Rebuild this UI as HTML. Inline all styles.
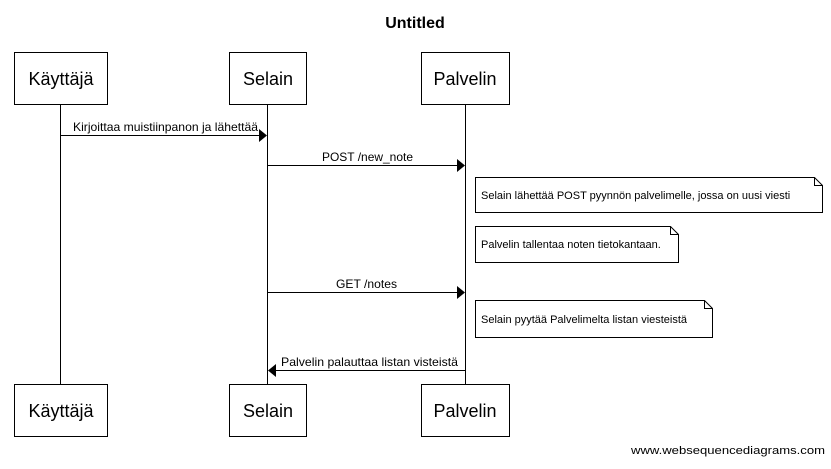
<!DOCTYPE html>
<html><head><meta charset="utf-8"><style>body{margin:0;background:#fff}</style></head><body>
<svg width="831" height="464" xmlns="http://www.w3.org/2000/svg" font-family="Liberation Sans, sans-serif">
<rect width="831" height="464" fill="#fff"/>
<text x="415" y="28" text-anchor="middle" font-size="16" font-weight="bold">Untitled</text>
<g stroke="#000" stroke-width="1" fill="#fff">
<line x1="60.5" y1="104" x2="60.5" y2="384"/>
<line x1="267.5" y1="104" x2="267.5" y2="384"/>
<line x1="465.5" y1="104" x2="465.5" y2="384"/>
<rect x="14.5" y="52.5" width="93" height="52"/>
<rect x="229.5" y="52.5" width="77" height="52"/>
<rect x="421.5" y="52.5" width="88" height="52"/>
<rect x="14.5" y="384.5" width="93" height="52"/>
<rect x="229.5" y="384.5" width="77" height="52"/>
<rect x="421.5" y="384.5" width="88" height="52"/>
<line x1="60" y1="135.5" x2="259" y2="135.5"/>
<line x1="267" y1="165.5" x2="457" y2="165.5"/>
<line x1="267" y1="292.5" x2="457" y2="292.5"/>
<line x1="276" y1="370.5" x2="465" y2="370.5"/>
<path d="M475.5 177.5H814.5L822.5 185.5V212.5H475.5Z"/>
<path d="M814.5 177.5V185.5H822.5" fill="none"/>
<path d="M475.5 226.5H670.5L678.5 234.5V262.5H475.5Z"/>
<path d="M670.5 226.5V234.5H678.5" fill="none"/>
<path d="M475.5 300.5H704.5L712.5 308.5V337.5H475.5Z"/>
<path d="M704.5 300.5V308.5H712.5" fill="none"/>
</g>
<g fill="#000">
<path d="M259 129L267 135.5L259 142Z"/>
<path d="M457 159L465 165.5L457 172Z"/>
<path d="M457 286L465 292.5L457 299Z"/>
<path d="M276 364L268 370.5L276 377Z"/>
</g>
<g font-size="18" text-anchor="middle">
<text x="61" y="85">Käyttäjä</text>
<text x="268" y="85">Selain</text>
<text x="465" y="85">Palvelin</text>
<text x="61" y="417">Käyttäjä</text>
<text x="268" y="417">Selain</text>
<text x="465" y="417">Palvelin</text>
</g>
<g font-size="12" lengthAdjust="spacingAndGlyphs">
<text x="73" y="131" textLength="185" lengthAdjust="spacingAndGlyphs">Kirjoittaa muistiinpanon ja lähettää</text>
<text x="322" y="161" textLength="91" lengthAdjust="spacingAndGlyphs">POST /new_note</text>
<text x="336" y="288" textLength="61" lengthAdjust="spacingAndGlyphs">GET /notes</text>
<text x="281" y="366" textLength="177" lengthAdjust="spacingAndGlyphs">Palvelin palauttaa listan visteistä</text>
</g>
<g font-size="11">
<text x="481" y="199">Selain lähettää POST pyynnön palvelimelle, jossa on uusi viesti</text>
<text x="481" y="248">Palvelin tallentaa noten tietokantaan.</text>
<text x="481" y="323">Selain pyytää Palvelimelta listan viesteistä</text>
<text x="631" y="454" textLength="194" lengthAdjust="spacingAndGlyphs">www.websequencediagrams.com</text>
</g>
</svg>
</body></html>
